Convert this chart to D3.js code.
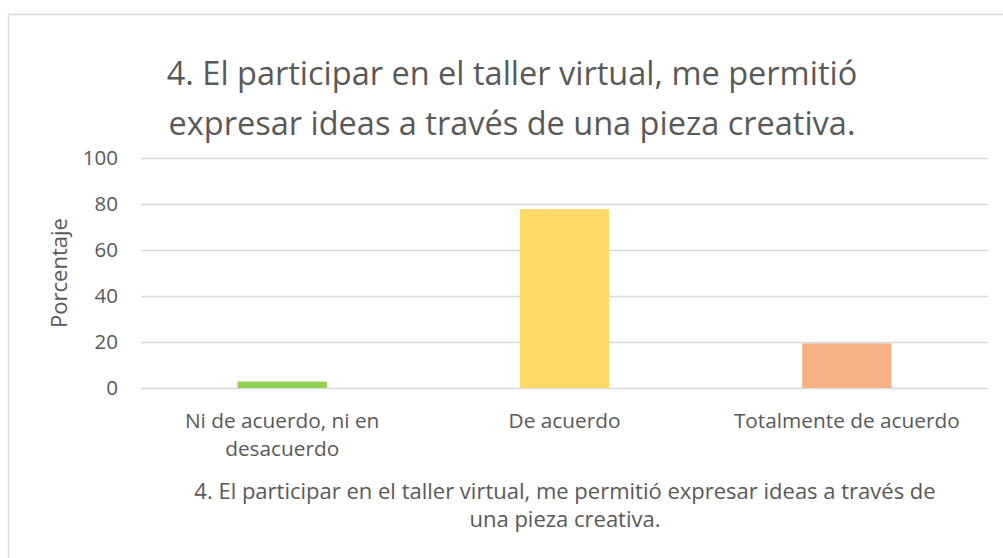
<!DOCTYPE html>
<html>
<head>
<meta charset="utf-8">
<script src="https://cdn.jsdelivr.net/npm/d3@7"></script>
<style>
  body { margin: 0; background: #fff; }
  svg text { font-family: "Open Sans", sans-serif; fill: #595959; }
</style>
</head>
<body>
<div class="chartWrapper"></div>
<script>
// data
let categories = [["Ni de acuerdo, ni en", "desacuerdo"], ["De acuerdo"], ["Totalmente de acuerdo"]];
let values = [2.8, 77.8, 19.4];
let barColors = ["#92d050", "#ffd966", "#f4b183"];
let yTicks = [0, 20, 40, 60, 80, 100];
let titleLines = ["4. El participar en el taller virtual, me permitió", "expresar ideas a través de una pieza creativa."];
let xTitleLines = ["4. El participar en el taller virtual, me permitió expresar ideas a través de", "una pieza creativa."];
let yTitle = "Porcentaje";

let width = 1003,
	height = 558,
	plotLeft = 141,
	plotRight = 988,
	plotTop = 158,
	plotBottom = 388;

let svg = d3.select('.chartWrapper')
			.append('svg')
			.attr('width', width)
			.attr('height', height);

//Chart frame
svg.append('rect')
	.attr('x', 8.5)
	.attr('y', 14.5)
	.attr('width', 1010)
	.attr('height', 560)
	.attr('fill', 'none')
	.attr('stroke', '#d9d9d9')
	.attr('stroke-width', 1.5);

//Title
svg.append('text')
	.attr('text-anchor', 'middle')
	.style('font-size', '32.5px')
	.selectAll('tspan')
	.data(titleLines)
	.enter()
	.append('tspan')
	.attr('x', 512)
	.attr('y', (d, i) => 85 + i * 50)
	.text(d => d);

//Scales
let xScale = d3.scaleBand()
				.domain(d3.range(categories.length))
				.range([plotLeft, plotRight])
				.paddingInner(0.684)
				.paddingOuter(0.342);

let yScale = d3.scaleLinear()
				.domain([0, 100])
				.range([plotBottom, plotTop]);

//Gridlines and y labels
let yAxis = d3.axisLeft(yScale)
				.tickValues(yTicks)
				.tickSize(-(plotRight - plotLeft))
				.tickPadding(23);

let yAxisGroup = svg.append('g')
					.attr('transform', 'translate(' + plotLeft + ',0)')
					.call(yAxis);
yAxisGroup.select('.domain').remove();
yAxisGroup.selectAll('line')
	.attr('stroke', '#d9d9d9')
	.attr('stroke-width', 1.5);
yAxisGroup.selectAll('text')
	.style('font-size', '20.5px')
	.style('font-family', '"Open Sans", sans-serif')
	.attr('fill', '#595959');

//Bars
svg.append('g')
	.selectAll('rect')
	.data(values)
	.enter()
	.append('rect')
	.attr('x', (d, i) => xScale(i))
	.attr('y', d => yScale(d))
	.attr('width', xScale.bandwidth())
	.attr('height', d => yScale(0) - yScale(d))
	.attr('fill', (d, i) => barColors[i]);

//Category labels
let catText = svg.append('g')
	.selectAll('text')
	.data(categories)
	.enter()
	.append('text')
	.attr('text-anchor', 'middle')
	.style('font-size', '20.8px');
catText.selectAll('tspan')
	.data((d, i) => d.map(t => ({ t: t, i: i })))
	.enter()
	.append('tspan')
	.attr('x', d => xScale(d.i) + xScale.bandwidth() / 2)
	.attr('y', (d, j) => 428 + j * 28)
	.text(d => d.t);

//X axis title
svg.append('text')
	.attr('text-anchor', 'middle')
	.style('font-size', '22px')
	.selectAll('tspan')
	.data(xTitleLines)
	.enter()
	.append('tspan')
	.attr('x', 565)
	.attr('y', (d, i) => 499 + i * 28)
	.text(d => d);

//Y axis title
svg.append('text')
	.attr('text-anchor', 'middle')
	.attr('transform', 'translate(67,273) rotate(-90)')
	.style('font-size', '22px')
	.text(yTitle);
</script>
</body>
</html>
